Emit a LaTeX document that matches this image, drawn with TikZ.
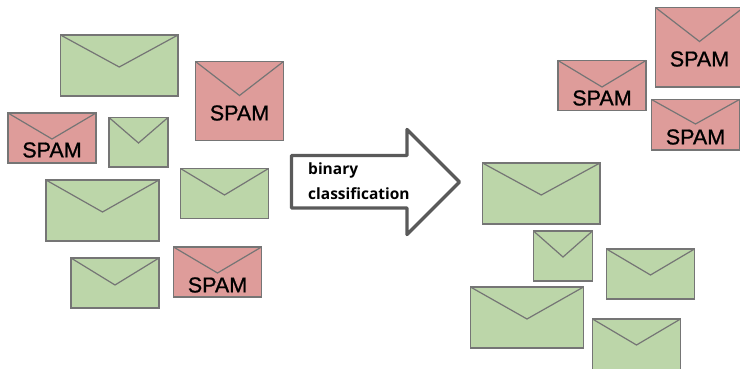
\documentclass[tikz,border=0pt]{standalone}
\usepackage{fontspec}
\setmainfont{Open Sans}
\newfontfamily\spamfont[FakeBold=0.9]{Liberation Sans}
\definecolor{mailgreen}{HTML}{BCD6A9}
\definecolor{mailred}{HTML}{DE9C9A}
\definecolor{mailline}{HTML}{757575}
\definecolor{arrowline}{HTML}{5A5A5A}
\begin{document}
\begin{tikzpicture}[x=1pt,y=-1pt]
    \tikzstyle{envelope}=[rectangle,draw=mailline,line width=1.2pt,inner sep=0pt,outer sep=0pt,anchor=north west]
    \tikzstyle{ham}=[envelope,fill=mailgreen]
    \tikzstyle{spam}=[envelope,fill=mailred]
    \tikzstyle{flap}=[draw=mailline,line width=1.2pt,line join=miter]
    \tikzstyle{spam label}=[font=\spamfont\fontsize{21.5}{21.5}\selectfont,text=black,inner sep=0pt]
    \tikzstyle{annot}=[font=\bfseries\fontsize{15.5}{15.5}\selectfont,text=black,inner sep=0pt,anchor=base west]

    \useasboundingbox (0,0) rectangle (740,369);
    \clip (0,0) rectangle (740,369);

    % Draw the green envelopes
    \foreach \name/\ex/\ey/\ew/\eh/\ef in {1/60.5/35/117.5/61/32,2/109/117.5/59/49.5/25.5,
        3/46/180/113/61/32,4/180.5/168.5/88/50/26.5,5/71/258/88/50/27,
        6/482.5/163/117.5/61/32,7/533.5/231/59/50/26,8/606.5/249/88/50/26,
        9/470.5/287/113/61/32,10/592.5/319/88/52/26}
    {
        \node[ham,minimum width=\ew pt,minimum height=\eh pt] (G-\name) at (\ex,\ey) {};
        \coordinate (GF-\name) at (\ex+\ew/2,\ey+\ef);
        \draw[flap] (G-\name.north west) -- (GF-\name) -- (G-\name.north east);
    }

    % Draw the red envelopes
    \foreach \name/\ex/\ey/\ew/\eh/\ef/\dy in {1/195.5/61.5/88/79/34/27.5,2/8/113/88/50/26/13,
        3/173.5/247/88/50/26/12,4/655.5/7.5/88/79.5/34/28,5/558/60.5/88/50/26.5/12.5,
        6/651.5/99.5/88/50.5/24.5/13}
    {
        \node[spam,minimum width=\ew pt,minimum height=\eh pt] (R-\name) at (\ex,\ey) {};
        \coordinate (RF-\name) at (\ex+\ew/2,\ey+\ef);
        \draw[flap] (R-\name.north west) -- (RF-\name) -- (R-\name.north east);
        \node[spam label] (S-\name) at ([yshift=\dy pt]R-\name.south) {SPAM};
    }

    % Draw the big arrow
    \draw[arrowline,fill=white,line width=3.4pt,line join=round] (291.5,155.5) -- (407,155.5) -- (407,129.5)
        -- (459.5,182) -- (407,234.5) -- (407,208) -- (291.5,208) -- cycle;

    % Annotate the arrow
    \node[annot] (bin) at (308,175) {binary};
    \node[annot] (cls) at (308,199) {classification};
\end{tikzpicture}
\end{document}
